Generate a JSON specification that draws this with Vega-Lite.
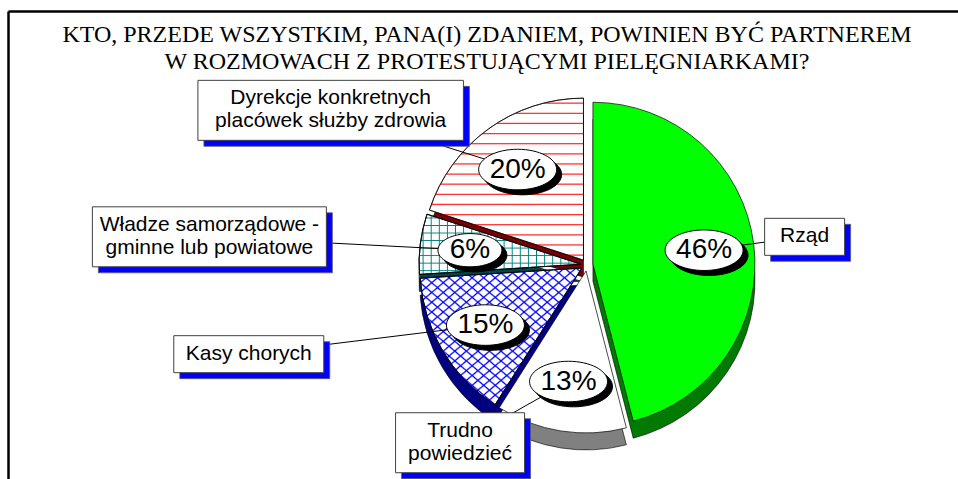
{
  "$schema": "https://vega.github.io/schema/vega-lite/v6.json",
  "width": 950,
  "height": 468,
  "autosize": {"type": "none"},
  "padding": {"left": 8, "top": 11, "right": 0, "bottom": 0},
  "background": "white",
  "title": {
    "text": ["KTO, PRZEDE WSZYSTKIM, PANA(I) ZDANIEM, POWINIEN BYĆ PARTNEREM", "W ROZMOWACH Z PROTESTUJĄCYMI PIELĘGNIARKAMI?"],
    "font": "Liberation Serif",
    "fontSize": 24,
    "fontWeight": "normal",
    "color": "black",
    "anchor": "middle",
    "baseline": "top",
    "offset": -63,
    "lineHeight": 27,
    "dx": 4
  },
  "data": {
    "values": [
      {"kategoria": "Rząd", "procent": 46},
      {"kategoria": "Trudno\npowiedzieć", "procent": 13},
      {"kategoria": "Kasy chorych", "procent": 15},
      {"kategoria": "Władze samorządowe -\ngminne lub powiatowe", "procent": 6},
      {"kategoria": "Dyrekcje konkretnych\nplacówek służby zdrowia", "procent": 20}
    ]
  },
  "transform": [
    {"window": [{"op": "sum", "field": "procent", "as": "koniec"}], "frame": [null, 0]},
    {"calculate": "datum.koniec - datum.procent", "as": "poczatek"},
    {"calculate": "(datum.poczatek + datum.koniec) / 100 * PI", "as": "kat"},
    {"calculate": "6 * sin(datum.kat)", "as": "sx"},
    {"calculate": "-6 * cos(datum.kat)", "as": "sy"},
    {"calculate": "datum.sx + 112 * sin(datum.kat)", "as": "px"},
    {"calculate": "datum.sy - 112 * cos(datum.kat)", "as": "py"},
    {"calculate": "300 * sin(datum.kat) - 80", "as": "bx"},
    {"calculate": "-185 * cos(datum.kat) - 5", "as": "by"},
    {"calculate": "split(datum.kategoria, '\\n')", "as": "linie"},
    {"calculate": "max(80, 10.5 * max(length(datum.linie[0]), length(datum.linie[length(datum.linie) - 1])) + 24)", "as": "bw"},
    {"calculate": "23 * length(datum.linie) + 14", "as": "bh"},
    {"calculate": "datum.bx - datum.bw / 2", "as": "bx1"},
    {"calculate": "datum.bx + datum.bw / 2", "as": "bx2"},
    {"calculate": "datum.by - datum.bh / 2", "as": "by1"},
    {"calculate": "datum.by + datum.bh / 2", "as": "by2"},
    {"calculate": "datum.by1 + 7", "as": "ty"},
    {"calculate": "datum.procent + '%'", "as": "etykieta"},
    {"calculate": "pow(14 * length(datum.etykieta) + 36, 2)", "as": "esize"}
  ],
  "layer": [
    {
      "mark": {"type": "arc", "outerRadius": 162, "yOffset": 17, "stroke": "black", "strokeWidth": 0.6},
      "encoding": {
        "theta": {"field": "poczatek", "type": "quantitative", "scale": {"domain": [0, 100], "range": [0, 6.283185307179586]}, "stack": null},
        "theta2": {"field": "koniec"},
        "x": {"field": "sx", "type": "quantitative", "scale": {"domain": [-579, 371], "nice": false, "zero": false}, "axis": {"orient": "top"}},
        "y": {"field": "sy", "type": "quantitative", "scale": {"domain": [-254, 214], "nice": false, "zero": false, "reverse": true}, "axis": {"orient": "left"}},
        "color": {"field": "kategoria", "type": "nominal", "legend": null,
          "scale": {"domain": ["Rząd", "Trudno\npowiedzieć", "Kasy chorych", "Władze samorządowe -\ngminne lub powiatowe", "Dyrekcje konkretnych\nplacówek służby zdrowia"],
                    "range": ["#007a00", "#808080", "#000080", "#004646", "#7a0000"]}}
      }
    },
    {
      "mark": {"type": "arc", "outerRadius": 162, "stroke": "black", "strokeWidth": 0.7},
      "encoding": {
        "theta": {"field": "poczatek", "type": "quantitative", "scale": {"domain": [0, 100], "range": [0, 6.283185307179586]}, "stack": null},
        "theta2": {"field": "koniec"},
        "x": {"field": "sx", "type": "quantitative", "axis": {"orient": "top"}},
        "y": {"field": "sy", "type": "quantitative", "axis": {"orient": "left"}},
        "fill": {"condition": {"test": "datum.kategoria === 'Rząd'", "value": "#00ff00"}, "value": "white"}
      }
    },
    {
      "transform": [{"filter": "indexof(datum.kategoria, 'Dyrekcje') === 0"}],
      "mark": {"type": "arc", "outerRadius": 162, "stroke": "black", "strokeWidth": 0.7,
        "fill": {"gradient": "linear", "x1": 0, "y1": 0, "x2": 0, "y2": 1, "stops": [
          {"offset": 0.024, "color": "rgba(255,0,0,0)"}, {"offset": 0.031, "color": "#ff2020"}, {"offset": 0.038, "color": "rgba(255,0,0,0)"},
          {"offset": 0.087, "color": "rgba(255,0,0,0)"}, {"offset": 0.094, "color": "#ff2020"}, {"offset": 0.101, "color": "rgba(255,0,0,0)"},
          {"offset": 0.149, "color": "rgba(255,0,0,0)"}, {"offset": 0.156, "color": "#ff2020"}, {"offset": 0.163, "color": "rgba(255,0,0,0)"},
          {"offset": 0.212, "color": "rgba(255,0,0,0)"}, {"offset": 0.219, "color": "#ff2020"}, {"offset": 0.226, "color": "rgba(255,0,0,0)"},
          {"offset": 0.274, "color": "rgba(255,0,0,0)"}, {"offset": 0.281, "color": "#ff2020"}, {"offset": 0.288, "color": "rgba(255,0,0,0)"},
          {"offset": 0.337, "color": "rgba(255,0,0,0)"}, {"offset": 0.344, "color": "#ff2020"}, {"offset": 0.351, "color": "rgba(255,0,0,0)"},
          {"offset": 0.399, "color": "rgba(255,0,0,0)"}, {"offset": 0.406, "color": "#ff2020"}, {"offset": 0.413, "color": "rgba(255,0,0,0)"},
          {"offset": 0.462, "color": "rgba(255,0,0,0)"}, {"offset": 0.469, "color": "#ff2020"}, {"offset": 0.476, "color": "rgba(255,0,0,0)"},
          {"offset": 0.524, "color": "rgba(255,0,0,0)"}, {"offset": 0.531, "color": "#ff2020"}, {"offset": 0.538, "color": "rgba(255,0,0,0)"},
          {"offset": 0.587, "color": "rgba(255,0,0,0)"}, {"offset": 0.594, "color": "#ff2020"}, {"offset": 0.601, "color": "rgba(255,0,0,0)"},
          {"offset": 0.649, "color": "rgba(255,0,0,0)"}, {"offset": 0.656, "color": "#ff2020"}, {"offset": 0.663, "color": "rgba(255,0,0,0)"},
          {"offset": 0.712, "color": "rgba(255,0,0,0)"}, {"offset": 0.719, "color": "#ff2020"}, {"offset": 0.726, "color": "rgba(255,0,0,0)"},
          {"offset": 0.774, "color": "rgba(255,0,0,0)"}, {"offset": 0.781, "color": "#ff2020"}, {"offset": 0.788, "color": "rgba(255,0,0,0)"},
          {"offset": 0.837, "color": "rgba(255,0,0,0)"}, {"offset": 0.844, "color": "#ff2020"}, {"offset": 0.851, "color": "rgba(255,0,0,0)"},
          {"offset": 0.899, "color": "rgba(255,0,0,0)"}, {"offset": 0.906, "color": "#ff2020"}, {"offset": 0.913, "color": "rgba(255,0,0,0)"},
          {"offset": 0.962, "color": "rgba(255,0,0,0)"}, {"offset": 0.969, "color": "#ff2020"}, {"offset": 0.976, "color": "rgba(255,0,0,0)"}
        ]}},
      "encoding": {
        "theta": {"field": "poczatek", "type": "quantitative", "scale": {"domain": [0, 100], "range": [0, 6.283185307179586]}, "stack": null},
        "theta2": {"field": "koniec"},
        "x": {"field": "sx", "type": "quantitative", "axis": {"orient": "top"}},
        "y": {"field": "sy", "type": "quantitative", "axis": {"orient": "left"}}
      }
    },
    {
      "transform": [{"filter": "indexof(datum.kategoria, 'Władze') === 0"}],
      "mark": {"type": "arc", "outerRadius": 162, "stroke": "black", "strokeWidth": 0.7,
        "fill": {"gradient": "linear", "x1": 0, "y1": 0, "x2": 0, "y2": 1, "stops": [
          {"offset": 0.047, "color": "rgba(0,128,128,0)"}, {"offset": 0.0625, "color": "#008080"}, {"offset": 0.078, "color": "rgba(0,128,128,0)"},
          {"offset": 0.172, "color": "rgba(0,128,128,0)"}, {"offset": 0.1875, "color": "#008080"}, {"offset": 0.203, "color": "rgba(0,128,128,0)"},
          {"offset": 0.297, "color": "rgba(0,128,128,0)"}, {"offset": 0.3125, "color": "#008080"}, {"offset": 0.328, "color": "rgba(0,128,128,0)"},
          {"offset": 0.422, "color": "rgba(0,128,128,0)"}, {"offset": 0.4375, "color": "#008080"}, {"offset": 0.453, "color": "rgba(0,128,128,0)"},
          {"offset": 0.547, "color": "rgba(0,128,128,0)"}, {"offset": 0.5625, "color": "#008080"}, {"offset": 0.578, "color": "rgba(0,128,128,0)"},
          {"offset": 0.672, "color": "rgba(0,128,128,0)"}, {"offset": 0.6875, "color": "#008080"}, {"offset": 0.703, "color": "rgba(0,128,128,0)"},
          {"offset": 0.797, "color": "rgba(0,128,128,0)"}, {"offset": 0.8125, "color": "#008080"}, {"offset": 0.828, "color": "rgba(0,128,128,0)"},
          {"offset": 0.922, "color": "rgba(0,128,128,0)"}, {"offset": 0.9375, "color": "#008080"}, {"offset": 0.953, "color": "rgba(0,128,128,0)"}
        ]}},
      "encoding": {
        "theta": {"field": "poczatek", "type": "quantitative", "scale": {"domain": [0, 100], "range": [0, 6.283185307179586]}, "stack": null},
        "theta2": {"field": "koniec"},
        "x": {"field": "sx", "type": "quantitative", "axis": {"orient": "top"}},
        "y": {"field": "sy", "type": "quantitative", "axis": {"orient": "left"}}
      }
    },
    {
      "transform": [{"filter": "indexof(datum.kategoria, 'Władze') === 0"}],
      "mark": {"type": "arc", "outerRadius": 162, "stroke": "black", "strokeWidth": 0.7,
        "fill": {"gradient": "linear", "x1": 0, "y1": 0, "x2": 1, "y2": 0, "stops": [
          {"offset": 0.019, "color": "rgba(0,128,128,0)"}, {"offset": 0.025, "color": "#008080"}, {"offset": 0.031, "color": "rgba(0,128,128,0)"},
          {"offset": 0.069, "color": "rgba(0,128,128,0)"}, {"offset": 0.075, "color": "#008080"}, {"offset": 0.081, "color": "rgba(0,128,128,0)"},
          {"offset": 0.119, "color": "rgba(0,128,128,0)"}, {"offset": 0.125, "color": "#008080"}, {"offset": 0.131, "color": "rgba(0,128,128,0)"},
          {"offset": 0.169, "color": "rgba(0,128,128,0)"}, {"offset": 0.175, "color": "#008080"}, {"offset": 0.181, "color": "rgba(0,128,128,0)"},
          {"offset": 0.219, "color": "rgba(0,128,128,0)"}, {"offset": 0.225, "color": "#008080"}, {"offset": 0.231, "color": "rgba(0,128,128,0)"},
          {"offset": 0.269, "color": "rgba(0,128,128,0)"}, {"offset": 0.275, "color": "#008080"}, {"offset": 0.281, "color": "rgba(0,128,128,0)"},
          {"offset": 0.319, "color": "rgba(0,128,128,0)"}, {"offset": 0.325, "color": "#008080"}, {"offset": 0.331, "color": "rgba(0,128,128,0)"},
          {"offset": 0.369, "color": "rgba(0,128,128,0)"}, {"offset": 0.375, "color": "#008080"}, {"offset": 0.381, "color": "rgba(0,128,128,0)"},
          {"offset": 0.419, "color": "rgba(0,128,128,0)"}, {"offset": 0.425, "color": "#008080"}, {"offset": 0.431, "color": "rgba(0,128,128,0)"},
          {"offset": 0.469, "color": "rgba(0,128,128,0)"}, {"offset": 0.475, "color": "#008080"}, {"offset": 0.481, "color": "rgba(0,128,128,0)"},
          {"offset": 0.519, "color": "rgba(0,128,128,0)"}, {"offset": 0.525, "color": "#008080"}, {"offset": 0.531, "color": "rgba(0,128,128,0)"},
          {"offset": 0.569, "color": "rgba(0,128,128,0)"}, {"offset": 0.575, "color": "#008080"}, {"offset": 0.581, "color": "rgba(0,128,128,0)"},
          {"offset": 0.619, "color": "rgba(0,128,128,0)"}, {"offset": 0.625, "color": "#008080"}, {"offset": 0.631, "color": "rgba(0,128,128,0)"},
          {"offset": 0.669, "color": "rgba(0,128,128,0)"}, {"offset": 0.675, "color": "#008080"}, {"offset": 0.681, "color": "rgba(0,128,128,0)"},
          {"offset": 0.719, "color": "rgba(0,128,128,0)"}, {"offset": 0.725, "color": "#008080"}, {"offset": 0.731, "color": "rgba(0,128,128,0)"},
          {"offset": 0.769, "color": "rgba(0,128,128,0)"}, {"offset": 0.775, "color": "#008080"}, {"offset": 0.781, "color": "rgba(0,128,128,0)"},
          {"offset": 0.819, "color": "rgba(0,128,128,0)"}, {"offset": 0.825, "color": "#008080"}, {"offset": 0.831, "color": "rgba(0,128,128,0)"},
          {"offset": 0.869, "color": "rgba(0,128,128,0)"}, {"offset": 0.875, "color": "#008080"}, {"offset": 0.881, "color": "rgba(0,128,128,0)"},
          {"offset": 0.919, "color": "rgba(0,128,128,0)"}, {"offset": 0.925, "color": "#008080"}, {"offset": 0.931, "color": "rgba(0,128,128,0)"},
          {"offset": 0.969, "color": "rgba(0,128,128,0)"}, {"offset": 0.975, "color": "#008080"}, {"offset": 0.981, "color": "rgba(0,128,128,0)"}
        ]}},
      "encoding": {
        "theta": {"field": "poczatek", "type": "quantitative", "scale": {"domain": [0, 100], "range": [0, 6.283185307179586]}, "stack": null},
        "theta2": {"field": "koniec"},
        "x": {"field": "sx", "type": "quantitative", "axis": {"orient": "top"}},
        "y": {"field": "sy", "type": "quantitative", "axis": {"orient": "left"}}
      }
    },
    {
      "transform": [{"filter": "indexof(datum.kategoria, 'Kasy') === 0"}],
      "mark": {"type": "arc", "outerRadius": 162, "stroke": "black", "strokeWidth": 0.7,
        "fill": {"gradient": "linear", "x1": 0, "y1": 0, "x2": 1, "y2": 1, "stops": [
          {"offset": 0.0119, "color": "rgba(0,0,255,0)"}, {"offset": 0.0179, "color": "#0000ff"}, {"offset": 0.0239, "color": "rgba(0,0,255,0)"},
          {"offset": 0.0476, "color": "rgba(0,0,255,0)"}, {"offset": 0.0536, "color": "#0000ff"}, {"offset": 0.0596, "color": "rgba(0,0,255,0)"},
          {"offset": 0.0833, "color": "rgba(0,0,255,0)"}, {"offset": 0.0893, "color": "#0000ff"}, {"offset": 0.0953, "color": "rgba(0,0,255,0)"},
          {"offset": 0.119, "color": "rgba(0,0,255,0)"}, {"offset": 0.125, "color": "#0000ff"}, {"offset": 0.131, "color": "rgba(0,0,255,0)"},
          {"offset": 0.1547, "color": "rgba(0,0,255,0)"}, {"offset": 0.1607, "color": "#0000ff"}, {"offset": 0.1667, "color": "rgba(0,0,255,0)"},
          {"offset": 0.1904, "color": "rgba(0,0,255,0)"}, {"offset": 0.1964, "color": "#0000ff"}, {"offset": 0.2024, "color": "rgba(0,0,255,0)"},
          {"offset": 0.2261, "color": "rgba(0,0,255,0)"}, {"offset": 0.2321, "color": "#0000ff"}, {"offset": 0.2381, "color": "rgba(0,0,255,0)"},
          {"offset": 0.2619, "color": "rgba(0,0,255,0)"}, {"offset": 0.2679, "color": "#0000ff"}, {"offset": 0.2739, "color": "rgba(0,0,255,0)"},
          {"offset": 0.2976, "color": "rgba(0,0,255,0)"}, {"offset": 0.3036, "color": "#0000ff"}, {"offset": 0.3096, "color": "rgba(0,0,255,0)"},
          {"offset": 0.3333, "color": "rgba(0,0,255,0)"}, {"offset": 0.3393, "color": "#0000ff"}, {"offset": 0.3453, "color": "rgba(0,0,255,0)"},
          {"offset": 0.369, "color": "rgba(0,0,255,0)"}, {"offset": 0.375, "color": "#0000ff"}, {"offset": 0.381, "color": "rgba(0,0,255,0)"},
          {"offset": 0.4047, "color": "rgba(0,0,255,0)"}, {"offset": 0.4107, "color": "#0000ff"}, {"offset": 0.4167, "color": "rgba(0,0,255,0)"},
          {"offset": 0.4404, "color": "rgba(0,0,255,0)"}, {"offset": 0.4464, "color": "#0000ff"}, {"offset": 0.4524, "color": "rgba(0,0,255,0)"},
          {"offset": 0.4761, "color": "rgba(0,0,255,0)"}, {"offset": 0.4821, "color": "#0000ff"}, {"offset": 0.4881, "color": "rgba(0,0,255,0)"},
          {"offset": 0.5119, "color": "rgba(0,0,255,0)"}, {"offset": 0.5179, "color": "#0000ff"}, {"offset": 0.5239, "color": "rgba(0,0,255,0)"},
          {"offset": 0.5476, "color": "rgba(0,0,255,0)"}, {"offset": 0.5536, "color": "#0000ff"}, {"offset": 0.5596, "color": "rgba(0,0,255,0)"},
          {"offset": 0.5833, "color": "rgba(0,0,255,0)"}, {"offset": 0.5893, "color": "#0000ff"}, {"offset": 0.5953, "color": "rgba(0,0,255,0)"},
          {"offset": 0.619, "color": "rgba(0,0,255,0)"}, {"offset": 0.625, "color": "#0000ff"}, {"offset": 0.631, "color": "rgba(0,0,255,0)"},
          {"offset": 0.6547, "color": "rgba(0,0,255,0)"}, {"offset": 0.6607, "color": "#0000ff"}, {"offset": 0.6667, "color": "rgba(0,0,255,0)"},
          {"offset": 0.6904, "color": "rgba(0,0,255,0)"}, {"offset": 0.6964, "color": "#0000ff"}, {"offset": 0.7024, "color": "rgba(0,0,255,0)"},
          {"offset": 0.7261, "color": "rgba(0,0,255,0)"}, {"offset": 0.7321, "color": "#0000ff"}, {"offset": 0.7381, "color": "rgba(0,0,255,0)"},
          {"offset": 0.7619, "color": "rgba(0,0,255,0)"}, {"offset": 0.7679, "color": "#0000ff"}, {"offset": 0.7739, "color": "rgba(0,0,255,0)"},
          {"offset": 0.7976, "color": "rgba(0,0,255,0)"}, {"offset": 0.8036, "color": "#0000ff"}, {"offset": 0.8096, "color": "rgba(0,0,255,0)"},
          {"offset": 0.8333, "color": "rgba(0,0,255,0)"}, {"offset": 0.8393, "color": "#0000ff"}, {"offset": 0.8453, "color": "rgba(0,0,255,0)"},
          {"offset": 0.869, "color": "rgba(0,0,255,0)"}, {"offset": 0.875, "color": "#0000ff"}, {"offset": 0.881, "color": "rgba(0,0,255,0)"},
          {"offset": 0.9047, "color": "rgba(0,0,255,0)"}, {"offset": 0.9107, "color": "#0000ff"}, {"offset": 0.9167, "color": "rgba(0,0,255,0)"},
          {"offset": 0.9404, "color": "rgba(0,0,255,0)"}, {"offset": 0.9464, "color": "#0000ff"}, {"offset": 0.9524, "color": "rgba(0,0,255,0)"},
          {"offset": 0.9761, "color": "rgba(0,0,255,0)"}, {"offset": 0.9821, "color": "#0000ff"}, {"offset": 0.9881, "color": "rgba(0,0,255,0)"}
        ]}},
      "encoding": {
        "theta": {"field": "poczatek", "type": "quantitative", "scale": {"domain": [0, 100], "range": [0, 6.283185307179586]}, "stack": null},
        "theta2": {"field": "koniec"},
        "x": {"field": "sx", "type": "quantitative", "axis": {"orient": "top"}},
        "y": {"field": "sy", "type": "quantitative", "axis": {"orient": "left"}}
      }
    },
    {
      "transform": [{"filter": "indexof(datum.kategoria, 'Kasy') === 0"}],
      "mark": {"type": "arc", "outerRadius": 162, "stroke": "black", "strokeWidth": 0.7,
        "fill": {"gradient": "linear", "x1": 1, "y1": 0, "x2": 0, "y2": 1, "stops": [
          {"offset": 0.0119, "color": "rgba(0,0,255,0)"}, {"offset": 0.0179, "color": "#0000ff"}, {"offset": 0.0239, "color": "rgba(0,0,255,0)"},
          {"offset": 0.0476, "color": "rgba(0,0,255,0)"}, {"offset": 0.0536, "color": "#0000ff"}, {"offset": 0.0596, "color": "rgba(0,0,255,0)"},
          {"offset": 0.0833, "color": "rgba(0,0,255,0)"}, {"offset": 0.0893, "color": "#0000ff"}, {"offset": 0.0953, "color": "rgba(0,0,255,0)"},
          {"offset": 0.119, "color": "rgba(0,0,255,0)"}, {"offset": 0.125, "color": "#0000ff"}, {"offset": 0.131, "color": "rgba(0,0,255,0)"},
          {"offset": 0.1547, "color": "rgba(0,0,255,0)"}, {"offset": 0.1607, "color": "#0000ff"}, {"offset": 0.1667, "color": "rgba(0,0,255,0)"},
          {"offset": 0.1904, "color": "rgba(0,0,255,0)"}, {"offset": 0.1964, "color": "#0000ff"}, {"offset": 0.2024, "color": "rgba(0,0,255,0)"},
          {"offset": 0.2261, "color": "rgba(0,0,255,0)"}, {"offset": 0.2321, "color": "#0000ff"}, {"offset": 0.2381, "color": "rgba(0,0,255,0)"},
          {"offset": 0.2619, "color": "rgba(0,0,255,0)"}, {"offset": 0.2679, "color": "#0000ff"}, {"offset": 0.2739, "color": "rgba(0,0,255,0)"},
          {"offset": 0.2976, "color": "rgba(0,0,255,0)"}, {"offset": 0.3036, "color": "#0000ff"}, {"offset": 0.3096, "color": "rgba(0,0,255,0)"},
          {"offset": 0.3333, "color": "rgba(0,0,255,0)"}, {"offset": 0.3393, "color": "#0000ff"}, {"offset": 0.3453, "color": "rgba(0,0,255,0)"},
          {"offset": 0.369, "color": "rgba(0,0,255,0)"}, {"offset": 0.375, "color": "#0000ff"}, {"offset": 0.381, "color": "rgba(0,0,255,0)"},
          {"offset": 0.4047, "color": "rgba(0,0,255,0)"}, {"offset": 0.4107, "color": "#0000ff"}, {"offset": 0.4167, "color": "rgba(0,0,255,0)"},
          {"offset": 0.4404, "color": "rgba(0,0,255,0)"}, {"offset": 0.4464, "color": "#0000ff"}, {"offset": 0.4524, "color": "rgba(0,0,255,0)"},
          {"offset": 0.4761, "color": "rgba(0,0,255,0)"}, {"offset": 0.4821, "color": "#0000ff"}, {"offset": 0.4881, "color": "rgba(0,0,255,0)"},
          {"offset": 0.5119, "color": "rgba(0,0,255,0)"}, {"offset": 0.5179, "color": "#0000ff"}, {"offset": 0.5239, "color": "rgba(0,0,255,0)"},
          {"offset": 0.5476, "color": "rgba(0,0,255,0)"}, {"offset": 0.5536, "color": "#0000ff"}, {"offset": 0.5596, "color": "rgba(0,0,255,0)"},
          {"offset": 0.5833, "color": "rgba(0,0,255,0)"}, {"offset": 0.5893, "color": "#0000ff"}, {"offset": 0.5953, "color": "rgba(0,0,255,0)"},
          {"offset": 0.619, "color": "rgba(0,0,255,0)"}, {"offset": 0.625, "color": "#0000ff"}, {"offset": 0.631, "color": "rgba(0,0,255,0)"},
          {"offset": 0.6547, "color": "rgba(0,0,255,0)"}, {"offset": 0.6607, "color": "#0000ff"}, {"offset": 0.6667, "color": "rgba(0,0,255,0)"},
          {"offset": 0.6904, "color": "rgba(0,0,255,0)"}, {"offset": 0.6964, "color": "#0000ff"}, {"offset": 0.7024, "color": "rgba(0,0,255,0)"},
          {"offset": 0.7261, "color": "rgba(0,0,255,0)"}, {"offset": 0.7321, "color": "#0000ff"}, {"offset": 0.7381, "color": "rgba(0,0,255,0)"},
          {"offset": 0.7619, "color": "rgba(0,0,255,0)"}, {"offset": 0.7679, "color": "#0000ff"}, {"offset": 0.7739, "color": "rgba(0,0,255,0)"},
          {"offset": 0.7976, "color": "rgba(0,0,255,0)"}, {"offset": 0.8036, "color": "#0000ff"}, {"offset": 0.8096, "color": "rgba(0,0,255,0)"},
          {"offset": 0.8333, "color": "rgba(0,0,255,0)"}, {"offset": 0.8393, "color": "#0000ff"}, {"offset": 0.8453, "color": "rgba(0,0,255,0)"},
          {"offset": 0.869, "color": "rgba(0,0,255,0)"}, {"offset": 0.875, "color": "#0000ff"}, {"offset": 0.881, "color": "rgba(0,0,255,0)"},
          {"offset": 0.9047, "color": "rgba(0,0,255,0)"}, {"offset": 0.9107, "color": "#0000ff"}, {"offset": 0.9167, "color": "rgba(0,0,255,0)"},
          {"offset": 0.9404, "color": "rgba(0,0,255,0)"}, {"offset": 0.9464, "color": "#0000ff"}, {"offset": 0.9524, "color": "rgba(0,0,255,0)"},
          {"offset": 0.9761, "color": "rgba(0,0,255,0)"}, {"offset": 0.9821, "color": "#0000ff"}, {"offset": 0.9881, "color": "rgba(0,0,255,0)"}
        ]}},
      "encoding": {
        "theta": {"field": "poczatek", "type": "quantitative", "scale": {"domain": [0, 100], "range": [0, 6.283185307179586]}, "stack": null},
        "theta2": {"field": "koniec"},
        "x": {"field": "sx", "type": "quantitative", "axis": {"orient": "top"}},
        "y": {"field": "sy", "type": "quantitative", "axis": {"orient": "left"}}
      }
    },
    {
      "mark": {"type": "rule", "color": "black", "strokeWidth": 1},
      "encoding": {
        "x": {"field": "bx", "type": "quantitative", "axis": {"orient": "top"}},
        "y": {"field": "by", "type": "quantitative", "axis": {"orient": "left"}},
        "x2": {"field": "px"},
        "y2": {"field": "py"}
      }
    },
    {
      "mark": {"type": "point", "shape": "M-1,0A1,0.52 0 1,1 1,0A1,0.52 0 1,1 -1,0Z", "filled": true, "fill": "black", "stroke": "black", "strokeWidth": 1, "opacity": 1, "xOffset": 5, "yOffset": 5},
      "encoding": {
        "x": {"field": "px", "type": "quantitative", "axis": {"orient": "top"}},
        "y": {"field": "py", "type": "quantitative", "axis": {"orient": "left"}},
        "size": {"field": "esize", "type": "quantitative", "scale": null}
      }
    },
    {
      "mark": {"type": "point", "shape": "M-1,0A1,0.52 0 1,1 1,0A1,0.52 0 1,1 -1,0Z", "filled": true, "fill": "white", "stroke": "black", "strokeWidth": 1, "opacity": 1},
      "encoding": {
        "x": {"field": "px", "type": "quantitative", "axis": {"orient": "top"}},
        "y": {"field": "py", "type": "quantitative", "axis": {"orient": "left"}},
        "size": {"field": "esize", "type": "quantitative", "scale": null}
      }
    },
    {
      "mark": {"type": "text", "font": "Liberation Sans", "fontSize": 28, "align": "center", "baseline": "middle", "color": "black"},
      "encoding": {
        "x": {"field": "px", "type": "quantitative", "axis": {"orient": "top"}},
        "y": {"field": "py", "type": "quantitative", "axis": {"orient": "left"}},
        "text": {"field": "etykieta"}
      }
    },
    {
      "mark": {"type": "rect", "fill": "#0000ff", "stroke": "#606060", "strokeWidth": 0.8, "xOffset": 6, "x2Offset": 6, "yOffset": 6, "y2Offset": 6},
      "encoding": {
        "x": {"field": "bx1", "type": "quantitative", "axis": {"orient": "top"}},
        "x2": {"field": "bx2"},
        "y": {"field": "by1", "type": "quantitative", "axis": {"orient": "left"}},
        "y2": {"field": "by2"}
      }
    },
    {
      "mark": {"type": "rect", "fill": "white", "stroke": "#404040", "strokeWidth": 1},
      "encoding": {
        "x": {"field": "bx1", "type": "quantitative", "axis": {"orient": "top"}},
        "x2": {"field": "bx2"},
        "y": {"field": "by1", "type": "quantitative", "axis": {"orient": "left"}},
        "y2": {"field": "by2"}
      }
    },
    {
      "mark": {"type": "text", "font": "Liberation Sans", "fontSize": 21, "lineBreak": "\n", "lineHeight": 23, "align": "center", "baseline": "top", "color": "black"},
      "encoding": {
        "x": {"field": "bx", "type": "quantitative", "axis": {"orient": "top"}},
        "y": {"field": "ty", "type": "quantitative", "axis": {"orient": "left"}},
        "text": {"field": "kategoria"}
      }
    }
  ],
  "config": {
    "view": {"stroke": null},
    "axis": {"title": null, "ticks": false, "labels": false, "grid": false, "domain": true, "domainColor": "black", "domainWidth": 2.5}
  }
}
